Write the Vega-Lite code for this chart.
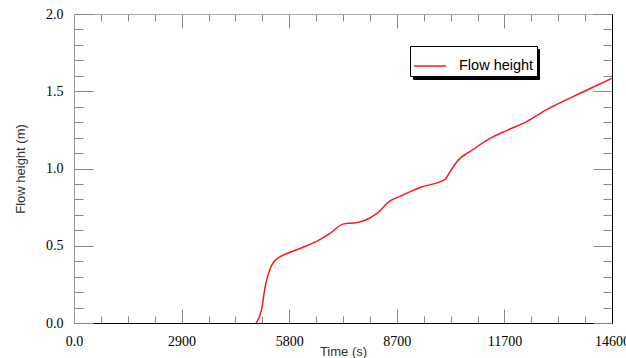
{
  "$schema": "https://vega.github.io/schema/vega-lite/v6.json",
  "width": 538,
  "height": 309,
  "autosize": {"type": "none"},
  "padding": {"left": 74, "top": 14, "right": 14, "bottom": 35},
  "background": "white",
  "config": {"view": {"stroke": null}},
  "data": {"values": [
    {"t": 4940, "h": 0},
    {"t": 5100, "h": 0.1},
    {"t": 5184, "h": 0.23},
    {"t": 5320, "h": 0.35},
    {"t": 5420, "h": 0.395},
    {"t": 5560, "h": 0.425},
    {"t": 5781, "h": 0.45},
    {"t": 6215, "h": 0.49},
    {"t": 6595, "h": 0.53},
    {"t": 6948, "h": 0.58},
    {"t": 7301, "h": 0.64},
    {"t": 7681, "h": 0.65},
    {"t": 7844, "h": 0.66},
    {"t": 8223, "h": 0.71},
    {"t": 8576, "h": 0.79},
    {"t": 8848, "h": 0.82},
    {"t": 9390, "h": 0.877},
    {"t": 10069, "h": 0.929},
    {"t": 10205, "h": 0.98},
    {"t": 10395, "h": 1.045},
    {"t": 10829, "h": 1.123},
    {"t": 11290, "h": 1.195},
    {"t": 11752, "h": 1.247},
    {"t": 12295, "h": 1.305},
    {"t": 12838, "h": 1.383},
    {"t": 13000, "h": 1.403},
    {"t": 13272, "h": 1.435},
    {"t": 13733, "h": 1.487},
    {"t": 14195, "h": 1.539},
    {"t": 14600, "h": 1.584}
  ]},
  "resolve": {"axis": {"x": "independent", "y": "independent"}},
  "layer": [
    {
      "mark": {"type": "line", "strokeWidth": 1.5, "interpolate": "monotone", "clip": true},
      "encoding": {
        "x": {
          "field": "t", "type": "quantitative",
          "scale": {"domain": [0, 14600], "nice": false, "zero": false},
          "axis": {
            "orient": "bottom",
            "title": "Time (s)",
            "titleFont": "Liberation Sans", "titleFontSize": 13, "titleFontWeight": "normal", "titleColor": "#333",
            "titlePadding": -10,
            "values": [0,730,1460,2190,2920,3650,4380,5110,5840,6570,7300,8030,8760,9490,10220,10950,11680,12410,13140,13870,14600],
            "labelExpr": "datum.value==0?'0.0':datum.value==2920?'2900':datum.value==5840?'5800':datum.value==8760?'8700':datum.value==11680?'11700':datum.value==14600?'14600':''",
            "labelOverlap": false,
            "labelFlush": false,
            "labelFont": "Liberation Serif", "labelFontSize": 14, "labelColor": "#000",
            "labelPadding": 25,
            "tickSize": {"condition": {"test": "datum.value % 2920 === 0", "value": -14}, "value": -7},
            "tickColor": "#888",
            "domainColor": "#000",
            "grid": false
          }
        },
        "y": {
          "field": "h", "type": "quantitative",
          "scale": {"domain": [0, 2], "nice": false, "zero": false},
          "axis": {
            "orient": "left",
            "title": "Flow height (m)",
            "titleFont": "Liberation Sans", "titleFontSize": 13, "titleFontWeight": "normal", "titleColor": "#333",
            "titlePadding": 18,
            "values": [0,0.1,0.2,0.3,0.4,0.5,0.6,0.7,0.8,0.9,1.0,1.1,1.2,1.3,1.4,1.5,1.6,1.7,1.8,1.9,2.0],
            "labelExpr": "round(datum.value*10) % 5 === 0 ? format(datum.value, '.1f') : ''",
            "labelOverlap": false,
            "labelFlush": false,
            "labelFont": "Liberation Serif", "labelFontSize": 14, "labelColor": "#000",
            "labelPadding": 30,
            "tickSize": {"condition": {"test": "round(datum.value*10) % 5 === 0", "value": -19}, "value": -9},
            "tickColor": "#888",
            "domainColor": "#999",
            "grid": false
          }
        },
        "color": {
          "datum": "Flow height",
          "type": "nominal",
          "scale": {"range": ["#ff1a1a"]},
          "legend": {
            "title": null,
            "orient": "none",
            "legendX": 336,
            "legendY": 32,
            "zindex": 2,
            "fillColor": "#fff",
            "strokeColor": "#000",
            "padding": 3,
            "symbolType": "stroke",
            "symbolSize": 1024,
            "symbolStrokeWidth": 1.5,
            "labelFont": "Liberation Sans",
            "labelFontSize": 14.5,
            "labelColor": "#000",
            "labelOffset": 12
          }
        }
      }
    },
    {
      "mark": {"type": "line", "opacity": 0},
      "encoding": {
        "x": {
          "field": "t", "type": "quantitative",
          "axis": {
            "orient": "top", "title": null, "labels": false,
            "values": [0,730,1460,2190,2920,3650,4380,5110,5840,6570,7300,8030,8760,9490,10220,10950,11680,12410,13140,13870,14600],
            "tickSize": {"condition": {"test": "datum.value % 2920 === 0", "value": -14}, "value": -7},
            "tickColor": "#888",
            "domainColor": "#aaa",
            "grid": false
          }
        },
        "y": {
          "field": "h", "type": "quantitative",
          "axis": {
            "orient": "right", "title": null, "labels": false,
            "values": [0,0.1,0.2,0.3,0.4,0.5,0.6,0.7,0.8,0.9,1.0,1.1,1.2,1.3,1.4,1.5,1.6,1.7,1.8,1.9,2.0],
            "tickSize": {"condition": {"test": "round(datum.value*10) % 5 === 0", "value": -19}, "value": -9},
            "tickColor": "#888",
            "domainColor": "#000",
            "grid": false
          }
        },
        "strokeDash": {
          "datum": "shadow",
          "type": "nominal",
          "legend": {
            "title": null,
            "orient": "none",
            "legendX": 339,
            "legendY": 35,
            "zindex": 1,
            "fillColor": "#000",
            "strokeColor": "#000",
            "padding": 3,
            "symbolType": "stroke",
            "symbolSize": 1024,
            "symbolStrokeWidth": 1.5,
            "symbolStrokeColor": "#000",
            "labelExpr": "''",
            "labelFont": "Liberation Sans",
            "labelFontSize": 14.5,
            "labelColor": "#000",
            "labelOffset": 86
          }
        }
      }
    }
  ]
}
